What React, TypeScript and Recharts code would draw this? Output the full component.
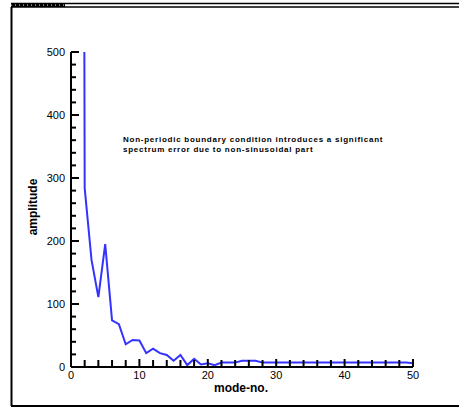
import React from 'react';
import { LineChart, Line, XAxis, YAxis } from 'recharts';

const modes = [1, 2, 3, 4, 5, 6, 7, 8, 9, 10, 11, 12, 13, 14, 15, 16, 17, 18, 19, 20, 21, 22, 23, 24, 25, 26, 27, 28, 29, 30, 31, 32, 33, 34, 35, 36, 37, 38, 39, 40, 41, 42, 43, 44, 45, 46, 47, 48, 49, 50];
const amplitudes = [5000, 284, 170, 111, 195, 74, 68, 36, 43, 42, 22, 29, 22, 19, 10, 19, 3, 13, 4, 6, 3, 7, 7, 7, 10, 10, 10, 7, 7, 7, 7, 7, 7, 7, 7, 7, 7, 7, 7, 7, 7, 7, 7, 7, 7, 7, 7, 7, 7, 6];

const xTicks = [0, 2, 4, 6, 8, 10, 12, 14, 16, 18, 20, 22, 24, 26, 28, 30, 32, 34, 36, 38, 40, 42, 44, 46, 48, 50];
const xLabels = [0, 10, 20, 30, 40, 50];
const yTicks = [0, 20, 40, 60, 80, 100, 120, 140, 160, 180, 200, 220, 240, 260, 280, 300, 320, 340, 360, 380, 400, 420, 440, 460, 480, 500];
const yLabels = [0, 100, 200, 300, 400, 500];

const xTitle = 'mode-no.';
const yTitle = 'amplitude';
const noteLines = [
  'Non-periodic boundary condition introduces a significant',
  'spectrum error due to non-sinusoidal part',
];

const data = modes.map((m, i) => ({ mode: m, amp: amplitudes[i] }));

const FONT = '"Liberation Sans", Arial, sans-serif';

const YTick = (props: any) => {
  const { x, y, payload } = props;
  const v = payload.value;
  const major = yLabels.includes(v);
  return (
    <g>
      <line x1={x} x2={x + (major ? 8 : 5)} y1={y} y2={y} stroke="#000" strokeWidth={2} />
      {major && (
        <text x={x - 6} y={y} dy="0.35em" textAnchor="end" fontSize={11} fontFamily={FONT} fill="#000">
          {v}
        </text>
      )}
    </g>
  );
};

const XTick = (props: any) => {
  const { x, y, payload } = props;
  const v = payload.value;
  const major = xLabels.includes(v);
  return (
    <g>
      <line x1={x} x2={x} y1={y} y2={y - (major ? 8 : 7)} stroke="#000" strokeWidth={2} />
      {major && (
        <text x={x} y={y + 12} textAnchor="middle" fontSize={11} fontFamily={FONT} fill="#000">
          {v}
        </text>
      )}
    </g>
  );
};

export default function App() {
  return (
    <div style={{ position: 'absolute', left: 0, top: 0, width: 459, height: 410, background: '#fff' }}>
      <style>{'body{margin:0}'}</style>
      <LineChart width={459} height={410} data={data} margin={{ top: 52, right: 46, bottom: 13, left: 11 }}>
        <XAxis
          dataKey="mode"
          type="number"
          domain={[0, 50]}
          ticks={xTicks}
          interval={0}
          tickSize={0}
          tickMargin={0}
          height={30}
          tick={<XTick />}
          axisLine={{ stroke: '#000', strokeWidth: 2 }}
          tickLine={false}
        />
        <YAxis
          type="number"
          domain={[0, 500]}
          allowDataOverflow
          ticks={yTicks}
          interval={0}
          tickSize={0}
          tickMargin={0}
          width={60}
          tick={<YTick />}
          axisLine={{ stroke: '#000', strokeWidth: 2 }}
          tickLine={false}
        />
        <Line
          dataKey="amp"
          type="linear"
          stroke="#3333ff"
          strokeWidth={2}
          dot={false}
          isAnimationActive={false}
        />
      </LineChart>
      <svg width={459} height={410} style={{ position: 'absolute', left: 0, top: 0, pointerEvents: 'none' }}>
        <rect x={11} y={3} width={54} height={4} fill="#000" />
        <line x1={11} x2={65} y1={5} y2={5} stroke="#fff" strokeWidth={1} strokeDasharray="1 3" />
        <line x1={11} x2={459} y1={3.5} y2={3.5} stroke="#000" strokeWidth={1.5} />
        <line x1={11} x2={459} y1={7} y2={7} stroke="#000" strokeWidth={1.5} />
        <line x1={11.5} x2={11.5} y1={7} y2={406} stroke="#000" strokeWidth={2} />
        <line x1={11} x2={459} y1={406} y2={406} stroke="#000" strokeWidth={2} />
        <text
          x={33}
          y={207}
          transform="rotate(-90 33 207)"
          textAnchor="middle"
          dy="0.35em"
          fontSize={12}
          fontWeight="bold"
          fontFamily={FONT}
          fill="#000"
        >
          {yTitle}
        </text>
        <text x={241} y={392} textAnchor="middle" fontSize={12} fontWeight="bold" fontFamily={FONT} fill="#000">
          {xTitle}
        </text>
        {noteLines.map((t, i) => (
          <text
            key={i}
            x={123}
            y={142 + i * 9.5}
            fontSize={8}
            letterSpacing={0.75}
            fontWeight="bold"
            fontFamily={FONT}
            fill="#000"
          >
            {t}
          </text>
        ))}
      </svg>
    </div>
  );
}
